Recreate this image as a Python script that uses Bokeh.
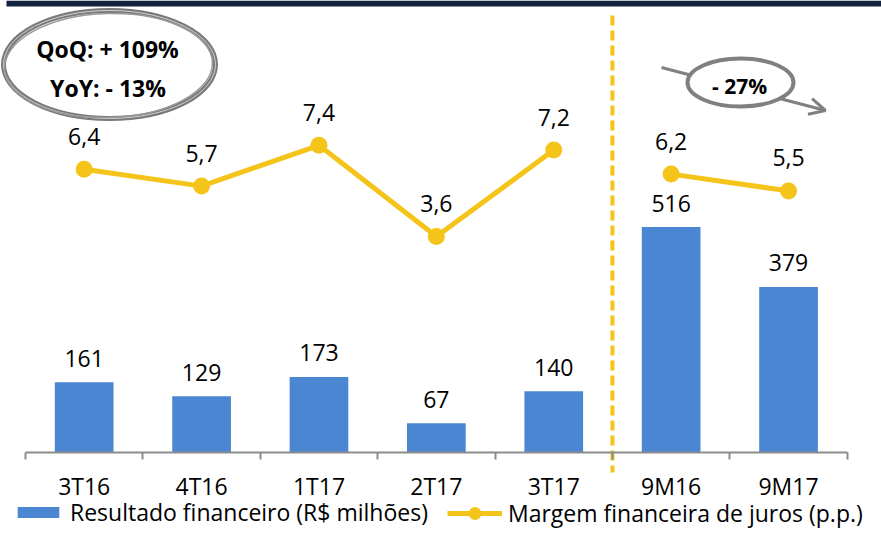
from bokeh.plotting import figure
from bokeh.models import (ColumnDataSource, Range1d, LinearAxis, FixedTicker, Legend, LegendItem,
                          Arrow, OpenHead)
from bokeh.core.properties import value
from bokeh.embed import file_html
from bokeh.resources import INLINE

# ---- data ----
categories = ["3T16", "4T16", "1T17", "2T17", "3T17", "9M16", "9M17"]
resultado = [161, 129, 173, 67, 140, 516, 379]
margem = [6.4, 5.7, 7.4, 3.6, 7.2, 6.2, 5.5]
n_quarters = 5
note_lines = ["QoQ: + 109%", "YoY: - 13%"]
change_note = "- 27%"
bar_legend = "Resultado financeiro (R$ milhões)"
line_legend = "Margem financeira de juros (p.p.)"

BLUE = "#4A86D2"
YELLOW = "#F4C41A"
GREY = "#808080"
NAVY = "#12233F"
FONT = "Open Sans"

# ---- layout helpers (screen -> data) ----
X0, DX = 25.0, 117.39
Y0, DY = 452.0, 0.437
M0, DM = 322.4, 24.0
def sx(X): return (X - X0) / DX
def sy(Y): return (Y0 - Y) / DY
def sm(Y): return (M0 - Y) / DM

W, H = 881, 533
p = figure(width=W, height=H, output_backend="svg", toolbar_location=None,
           x_axis_location=None, y_axis_location=None, min_border=0,
           x_range=Range1d(sx(0), sx(W)), y_range=Range1d(sy(H), sy(0)))
p.extra_y_ranges = {"margem": Range1d(sm(H), sm(0))}
p.outline_line_color = None
p.background_fill_color = "white"
p.border_fill_color = "white"
p.xgrid.visible = False
p.ygrid.visible = False
for r in list(p.center):
    if r.__class__.__name__ == "Grid":
        r.visible = False

# top band
p.quad(left=[sx(6)], right=[sx(W)], top=[sy(0)], bottom=[sy(6)], fill_color=NAVY, line_color=None)

xs = [i + 0.5 for i in range(len(categories))]
src = ColumnDataSource(dict(x=xs, cat=categories, res=resultado,
                            res_lab=[str(v) for v in resultado],
                            mg=margem, mg_lab=[f"{v:.1f}".replace(".", ",") for v in margem]))
q = ColumnDataSource(dict(x=xs[:n_quarters], mg=margem[:n_quarters]))
m = ColumnDataSource(dict(x=xs[n_quarters:], mg=margem[n_quarters:]))

bars = p.vbar(x="x", top="res", width=0.5, bottom=0, source=src, fill_color=BLUE, line_color=None)
p.text(x="x", y="res", text="res_lab", source=src, y_offset=-24, text_align="center",
       text_baseline="middle", text_font=value(FONT), text_font_size="23px", text_color="#000000")

# separator
p.segment(x0=[n_quarters], y0=[sy(15)], x1=[n_quarters], y1=[sy(472)], line_color=YELLOW,
          line_width=4, line_dash="10 5")

l1 = p.line(x="x", y="mg", source=q, y_range_name="margem", line_color=YELLOW, line_width=5)
p.line(x="x", y="mg", source=m, y_range_name="margem", line_color=YELLOW, line_width=5)
s1 = p.scatter(x="x", y="mg", source=src, y_range_name="margem", size=17, fill_color=YELLOW, line_color=None)
p.text(x="x", y="mg", text="mg_lab", source=src, y_range_name="margem", y_offset=-33,
       text_align="center", text_baseline="middle", text_font=value(FONT),
       text_font_size="23px", text_color="#000000")

# x axis with boundary ticks
xaxis = LinearAxis(fixed_location=0, bounds=(0, len(categories)),
                   ticker=FixedTicker(ticks=xs, minor_ticks=list(range(len(categories) + 1))),
                   major_label_overrides={x: c for x, c in zip(xs, categories)})
xaxis.axis_line_color = "#8c8c8c"
xaxis.axis_line_width = 2
xaxis.major_tick_out = 0
xaxis.major_tick_in = 0
xaxis.minor_tick_out = 7
xaxis.minor_tick_in = 0
xaxis.minor_tick_line_color = "#8c8c8c"
xaxis.minor_tick_line_width = 2
xaxis.major_label_text_font = FONT
xaxis.major_label_text_font_size = "23px"
xaxis.major_label_text_color = "#000000"
xaxis.major_label_standoff = 10
p.add_layout(xaxis, "below")

# QoQ / YoY ellipse
p.ellipse(x=[sx(109)], y=[sy(64)], width=212, height=108, width_units="screen", height_units="screen",
          fill_color=None, line_color="#7a7a7a", line_width=5)
p.ellipse(x=[sx(109)], y=[sy(64)], width=212, height=108, width_units="screen", height_units="screen",
          fill_color=None, line_color="#d0d0d0", line_width=1)
p.ellipse(x=[sx(108)], y=[sy(65)], width=208, height=104, width_units="screen", height_units="screen",
          angle=0.03, fill_color=None, line_color="#9a9a9a", line_width=1.5)
p.text(x=[sx(107), sx(107.5)], y=[sy(48), sy(87)], text=note_lines, text_align="center",
       text_baseline="middle", text_font=value(FONT), text_font_style="bold",
       text_font_size="23px", text_color="#000000")

# -27% arrow
arrow = Arrow(x_start=sx(661), y_start=sy(67), x_end=sx(825), y_end=sy(110),
              line_color=GREY, line_width=3,
              end=OpenHead(size=16, line_color=GREY, line_width=3), level="underlay")
p.add_layout(arrow)
p.ellipse(x=[sx(740)], y=[sy(82)], width=106, height=48, width_units="screen", height_units="screen",
          fill_color="white", line_color=GREY, line_width=4)
p.text(x=[sx(739)], y=[sy(85)], text=[change_note], text_align="center", text_baseline="middle",
       text_font=value(FONT), text_font_style="bold", text_font_size="21px", text_color="#000000")

# legends
common = dict(padding=0, margin=0, border_line_color=None, background_fill_alpha=0,
              label_text_font=FONT, label_text_font_size="23px", label_text_color="#000000",
              orientation="horizontal", label_standoff=6, label_height=24)
leg1 = Legend(items=[LegendItem(label=bar_legend, renderers=[bars])], location=(12, 5.5),
              glyph_width=52, glyph_height=14, **common)
leg2 = Legend(items=[LegendItem(label=line_legend, renderers=[l1, s1])], location=(447, 4),
              glyph_width=55, glyph_height=32, **common)
p.add_layout(leg1)
p.add_layout(leg2)

open("out.html", "w").write(file_html(p, INLINE))
